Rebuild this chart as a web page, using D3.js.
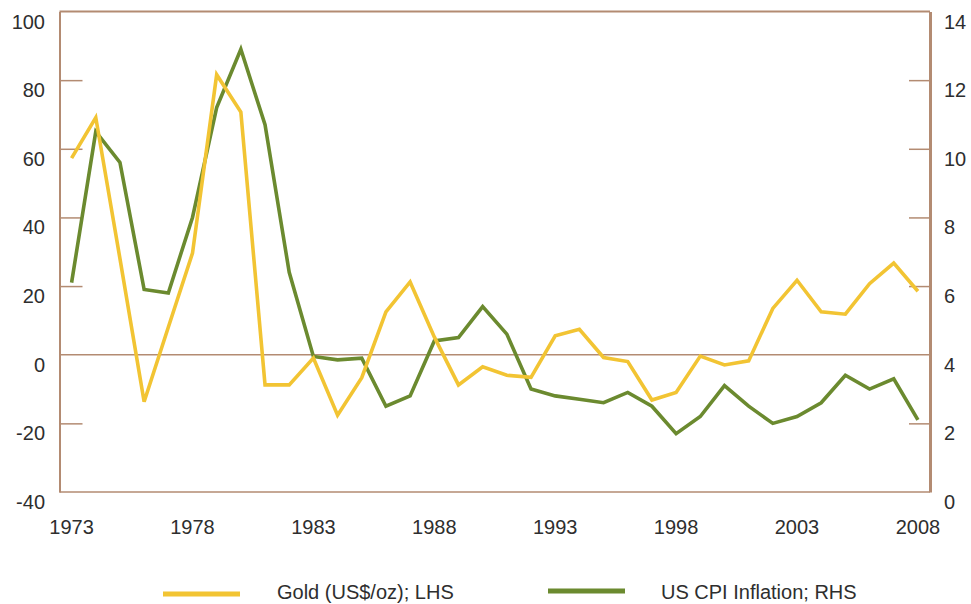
<!DOCTYPE html>
<html>
<head>
<meta charset="utf-8">
<script src="https://cdn.jsdelivr.net/npm/d3@7"></script>
<style>
  html, body { margin: 0; padding: 0; background: #ffffff; }
  svg { display: block; }
  text { font-family: "Liberation Sans", Arial, sans-serif; fill: #2e2e2e; }
</style>
</head>
<body>
<script>
// ---- Data ----
const years = [1973,1974,1975,1976,1977,1978,1979,1980,1981,1982,1983,1984,1985,1986,1987,1988,1989,1990,
               1991,1992,1993,1994,1995,1996,1997,1998,1999,2000,2001,2002,2003,2004,2005,2006,2007,2008];
const goldChange = [57.3,69.1,28,-13.7,8,29.6,81.6,70.7,-8.8,-8.8,-1,-17.6,-6.7,12.5,21.2,5.2,-8.8,-3.5,
                    -6,-6.6,5.5,7.4,-0.8,-2,-13.2,-11,-0.4,-3,-1.8,13.5,21.7,12.5,11.8,20.7,26.7,18.5];
const cpiInflation = [6.1,10.5,9.6,5.9,5.8,8.0,11.2,12.9,10.7,6.4,3.95,3.85,3.9,2.5,2.8,4.4,4.5,5.4,
                      4.6,3.0,2.8,2.7,2.6,2.9,2.5,1.7,2.2,3.1,2.5,2.0,2.2,2.6,3.4,3.0,3.3,2.1];
const leftTicks = [100,80,60,40,20,0,-20,-40];
const rightTicks = [14,12,10,8,6,4,2,0];
const xTickYears = [1973,1978,1983,1988,1993,1998,2003,2008];
const seriesNames = ["Gold (US$/oz); LHS", "US CPI Inflation; RHS"];

// ---- Layout ----
const W = 971, H = 604;
const plot = { left: 59.5, right: 930, top: 11.5, bottom: 492 };
const axisColor = "#b38b72";
const goldColor = "#f2c433";
const cpiColor = "#6b8a2f";

const svg = d3.select("body").append("svg").attr("width", W).attr("height", H);

const x = d3.scalePoint().domain(years).range([plot.left, plot.right]).padding(0.5);
const yL = d3.scaleLinear().domain([-40, 100]).range([plot.bottom, plot.top]);
const yR = d3.scaleLinear().domain([0, 14]).range([plot.bottom, plot.top]);

// Frame: top and bottom
svg.append("line").attr("x1", plot.left).attr("x2", plot.right).attr("y1", plot.top).attr("y2", plot.top)
  .attr("stroke", axisColor).attr("stroke-width", 2);
svg.append("line").attr("x1", plot.left).attr("x2", plot.right).attr("y1", plot.bottom).attr("y2", plot.bottom)
  .attr("stroke", axisColor).attr("stroke-width", 1.5);

// Zero line
svg.append("line").attr("x1", plot.left).attr("x2", plot.right).attr("y1", yL(0)).attr("y2", yL(0))
  .attr("stroke", axisColor).attr("stroke-width", 1.5);

// Left axis
const leftAxis = d3.axisRight(yL).tickValues(leftTicks).tickSizeInner(23).tickSizeOuter(0).tickFormat("");
const gL = svg.append("g").attr("transform", `translate(${plot.left},0)`).call(leftAxis);
gL.select(".domain").attr("stroke", axisColor).attr("stroke-width", 2);
gL.selectAll(".tick line").attr("stroke", axisColor).attr("stroke-width", 1.5)
  .filter(d => d === 0 || d === 100 || d === -40).remove();

// Right axis
const rightAxis = d3.axisLeft(yR).tickValues(rightTicks).tickSizeInner(21).tickSizeOuter(0).tickFormat("");
const gR = svg.append("g").attr("transform", `translate(${plot.right},0)`).call(rightAxis);
gR.select(".domain").attr("stroke", axisColor).attr("stroke-width", 3);
gR.selectAll(".tick line").attr("stroke", axisColor).attr("stroke-width", 1.5)
  .filter(d => d === 4 || d === 14 || d === 0).remove();

// Tick labels
svg.append("g").selectAll("text").data(leftTicks).join("text")
  .attr("x", 45).attr("y", d => yL(d) + 17)
  .attr("text-anchor", "end").attr("font-size", 20).text(d => d);
svg.append("g").selectAll("text").data(rightTicks).join("text")
  .attr("x", 944).attr("y", d => yR(d) + 17)
  .attr("text-anchor", "start").attr("font-size", 20).text(d => d);
svg.append("g").selectAll("text").data(xTickYears).join("text")
  .attr("x", d => x(d)).attr("y", 534)
  .attr("text-anchor", "middle").attr("font-size", 20).text(d => d);

// Lines
const goldLine = d3.line().x((d, i) => x(years[i])).y(d => yL(d));
const cpiLine = d3.line().x((d, i) => x(years[i])).y(d => yR(d));
svg.append("path").datum(cpiInflation).attr("d", cpiLine).attr("fill", "none")
  .attr("stroke", cpiColor).attr("stroke-width", 3.6).attr("stroke-linejoin", "miter");
svg.append("path").datum(goldChange).attr("d", goldLine).attr("fill", "none")
  .attr("stroke", goldColor).attr("stroke-width", 3.6).attr("stroke-linejoin", "miter");

// Legend
const legend = [
  { name: seriesNames[0], color: goldColor, x1: 163, x2: 240, ly: 594, tx: 277 },
  { name: seriesNames[1], color: cpiColor, x1: 548, x2: 625, ly: 591, tx: 661 }
];
legend.forEach(l => {
  svg.append("line").attr("x1", l.x1).attr("x2", l.x2).attr("y1", l.ly).attr("y2", l.ly)
    .attr("stroke", l.color).attr("stroke-width", 5);
  svg.append("text").attr("x", l.tx).attr("y", 599).attr("font-size", 20).text(l.name);
});
</script>
</body>
</html>
